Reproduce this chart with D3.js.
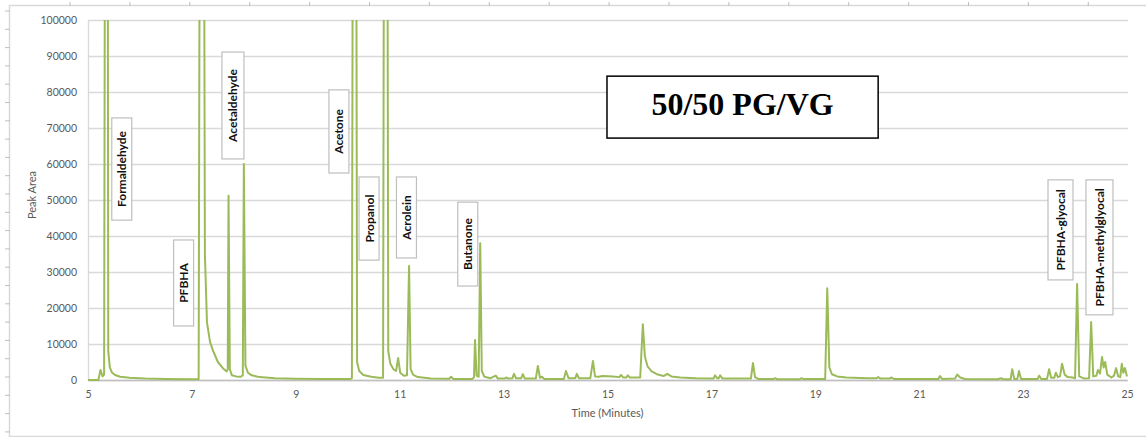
<!DOCTYPE html>
<html>
<head>
<meta charset="utf-8">
<script src="https://cdn.jsdelivr.net/npm/d3@7"></script>
<style>
  body { margin: 0; background: #fff; }
  svg { display: block; }
</style>
</head>
<body>
<svg id="chart"></svg>
<script>
// chromatogram trace: [time (min), peak area]
// peaks that run off the top of the chart are given a large value and clipped
const trace = [
  [5.00, 0], [5.20, 0], [5.24, 2800], [5.28, 1000], [5.31, 1500], [5.36, 400000], [5.39, 8000],
  [5.42, 3500], [5.46, 2100], [5.52, 1400], [5.62, 900], [5.80, 600], [6.10, 400], [6.50, 300],
  [7.00, 200], [7.13, 200], [7.19, 400000], [7.25, 35000], [7.29, 16000], [7.35, 10500],
  [7.41, 8000], [7.50, 5000], [7.60, 3200], [7.67, 2400], [7.69, 3000], [7.705, 51200],
  [7.73, 3000], [7.77, 1300], [7.85, 1000], [7.94, 900], [7.98, 1300], [8.00, 60000],
  [8.03, 4000], [8.08, 2000], [8.15, 1300], [8.30, 800], [8.60, 500], [9.00, 350], [9.50, 250],
  [10.05, 250], [10.08, 500], [10.13, 400000], [10.18, 5000], [10.22, 2500], [10.30, 1400],
  [10.45, 900], [10.60, 600], [10.68, 600], [10.73, 400000], [10.78, 8000], [10.82, 4500],
  [10.88, 3000], [10.93, 2500], [10.97, 6100], [11.01, 2000], [11.08, 1200], [11.14, 1300],
  [11.18, 31700], [11.21, 3000], [11.26, 1400], [11.35, 800], [11.60, 450], [11.95, 350],
  [11.99, 900], [12.03, 300], [12.40, 300], [12.43, 800], [12.45, 11100], [12.48, 1200],
  [12.52, 900], [12.55, 38000], [12.58, 2500], [12.63, 900], [12.75, 500], [12.85, 1200],
  [12.89, 400], [13.02, 400], [13.05, 700], [13.09, 400], [13.17, 500], [13.20, 1700],
  [13.24, 500], [13.34, 500], [13.37, 1600], [13.41, 400], [13.62, 400], [13.66, 3900],
  [13.70, 600], [13.74, 900], [13.78, 300], [14.16, 300], [14.20, 2500], [14.25, 500],
  [14.38, 500], [14.41, 1700], [14.45, 500], [14.67, 500], [14.72, 5300], [14.76, 1000],
  [14.83, 900], [14.90, 1100], [15.10, 1000], [15.23, 800], [15.26, 1400], [15.30, 700],
  [15.36, 700], [15.39, 1300], [15.43, 700], [15.63, 700], [15.68, 15500], [15.72, 6500],
  [15.77, 3800], [15.85, 2400], [15.95, 1600], [16.08, 1100], [16.15, 1700], [16.23, 1000],
  [16.40, 700], [16.70, 500], [17.04, 400], [17.07, 1300], [17.11, 500], [17.14, 500],
  [17.17, 1300], [17.21, 400], [17.76, 400], [17.80, 4700], [17.84, 800], [17.90, 300],
  [18.20, 300], [18.23, 500], [18.27, 200], [18.70, 200], [18.73, 500], [18.77, 300],
  [19.19, 300], [19.23, 25500], [19.27, 3500], [19.32, 1600], [19.42, 1000], [19.60, 700],
  [20.00, 500], [20.18, 500], [20.21, 800], [20.26, 400], [20.43, 400], [20.46, 700],
  [20.51, 300], [21.00, 300], [21.37, 300], [21.40, 1100], [21.44, 300], [21.69, 400],
  [21.73, 1500], [21.79, 700], [21.88, 300], [22.50, 200], [22.58, 500], [22.62, 200],
  [22.76, 200], [22.79, 3000], [22.83, 300], [22.89, 300], [22.92, 2500], [22.96, 300],
  [23.28, 300], [23.31, 1200], [23.35, 300], [23.46, 300], [23.50, 3000], [23.54, 600],
  [23.60, 600], [23.63, 2000], [23.67, 800], [23.71, 1000], [23.75, 4500], [23.80, 1500],
  [23.86, 800], [23.95, 700], [24.00, 500], [24.04, 26700], [24.08, 1000], [24.18, 400],
  [24.27, 500], [24.31, 16100], [24.35, 1000], [24.41, 1200], [24.44, 2800], [24.48, 1800],
  [24.52, 6400], [24.55, 3500], [24.58, 5000], [24.62, 1500], [24.70, 700], [24.75, 1200],
  [24.79, 3300], [24.83, 1000], [24.87, 800], [24.90, 4500], [24.93, 2000], [24.96, 3300],
  [25.00, 1000]
];

const xTicks = [5, 7, 9, 11, 13, 15, 17, 19, 21, 23, 25];
const yTicks = [0, 10000, 20000, 30000, 40000, 50000, 60000, 70000, 80000, 90000, 100000];

const peakNames = ["Formaldehyde", "PFBHA", "Acetaldehyde", "Acetone", "Propanol",
                   "Acrolein", "Butanone", "PFBHA-glyocal", "PFBHA-methylglyocal"];

const chartTitle = "50/50 PG/VG";
const xTitle = "Time (Minutes)";
const yTitle = "Peak Area";

// where each callout box sits, in data units: [centre time, top area, bottom area, width px]
const calloutBoxes = [
  [5.65, 72800, 44400, 20],
  [6.84, 38900, 15000, 20],
  [7.79, 91100, 61400, 22],
  [9.83, 80600, 57500, 20],
  [10.41, 56400, 33300, 20],
  [11.13, 56400, 33900, 20],
  [12.31, 49400, 26100, 20],
  [23.72, 55600, 27800, 25],
  [24.47, 55600, 18100, 27]
];

const W = 1146, H = 437;
const plot = { left: 88, right: 1127, top: 20, bottom: 380 };
const font = "Lato, 'Open Sans', sans-serif";

const svg = d3.select("#chart").attr("width", W).attr("height", H);

// page frame with its little ruler ticks
const frame = svg.append("g").attr("stroke", "#d9d9d9").attr("fill", "none");
frame.append("path").attr("d", `M9.5,437 V5.5 H1146`).attr("stroke-width", 1.5);
frame.append("path").attr("d", `M9.5,436.5 H1146`).attr("stroke-width", 1.5);
frame.selectAll(".rt").data(d3.range(70, W, 59.9)).enter().append("line")
  .attr("x1", d => d).attr("x2", d => d).attr("y1", 2).attr("y2", 6)
  .attr("stroke", "#bfbfbf");
frame.selectAll(".lt").data(d3.range(11, H, 18.3)).enter().append("line")
  .attr("x1", 5).attr("x2", 10).attr("y1", d => d).attr("y2", d => d)
  .attr("stroke", "#bfbfbf");

let x = d3.scaleLinear().domain([5, 25]).range([plot.left, plot.right]);
let y = d3.scaleLinear().domain([0, 100000]).range([plot.bottom, plot.top]);

// horizontal gridlines + y labels
let yAxis = svg.append("g")
  .attr("transform", `translate(${plot.left},0)`)
  .call(d3.axisLeft(y).tickValues(yTicks).tickFormat(d3.format("d"))
    .tickSize(-(plot.right - plot.left + 1)).tickPadding(11));
yAxis.select(".domain").remove();
yAxis.selectAll(".tick line").attr("stroke", "#d9d9d9").attr("stroke-width", 1.3);
yAxis.selectAll(".tick text").attr("fill", "#595959").style("font", `10.5px ${font}`);

// left edge of plot area
svg.append("line")
  .attr("x1", plot.left + 0.5).attr("x2", plot.left + 0.5)
  .attr("y1", plot.top).attr("y2", plot.bottom)
  .attr("stroke", "#d9d9d9").attr("stroke-width", 1.3);

// x axis
let xAxis = svg.append("g")
  .attr("transform", `translate(0,${plot.bottom})`)
  .call(d3.axisBottom(x).tickValues(xTicks).tickSize(0).tickPadding(11));
xAxis.select(".domain").attr("stroke", "#bfbfbf").attr("stroke-width", 1.3);
xAxis.selectAll(".tick text").attr("fill", "#595959").style("font", `10.5px ${font}`);

svg.append("text")
  .attr("x", (plot.left + plot.right) / 2).attr("y", 417)
  .attr("text-anchor", "middle").attr("fill", "#595959")
  .style("font", `11px ${font}`).text(xTitle);

svg.append("text")
  .attr("transform", `translate(36,195) rotate(-90)`)
  .attr("text-anchor", "middle").attr("fill", "#595959")
  .style("font", `11px ${font}`).text(yTitle);

// the chromatogram
svg.append("clipPath").attr("id", "plotclip").append("rect")
  .attr("x", plot.left).attr("y", plot.top)
  .attr("width", plot.right - plot.left + 2).attr("height", plot.bottom - plot.top + 2);

let line = d3.line().x(d => x(d[0])).y(d => y(d[1]));
svg.append("path")
  .datum(trace)
  .attr("clip-path", "url(#plotclip)")
  .attr("d", line)
  .attr("fill", "none")
  .attr("stroke", "#9bbb59")
  .attr("stroke-width", 2)
  .attr("stroke-linejoin", "round");

// callout boxes
let callouts = svg.append("g").selectAll("g")
  .data(peakNames.map((name, i) => ({ name, box: calloutBoxes[i] })))
  .enter().append("g");

callouts.append("rect")
  .attr("x", d => x(d.box[0]) - d.box[3] / 2)
  .attr("y", d => y(d.box[1]))
  .attr("width", d => d.box[3])
  .attr("height", d => y(d.box[2]) - y(d.box[1]))
  .attr("fill", "#fff")
  .attr("stroke", "#bfbfbf")
  .attr("stroke-width", 1.2);

callouts.append("text")
  .attr("transform", d => `translate(${x(d.box[0]) + 4.5},${(y(d.box[1]) + y(d.box[2])) / 2}) rotate(-90)`)
  .attr("text-anchor", "middle")
  .attr("fill", "#111")
  .style("font", `bold 12px ${font}`)
  .text(d => d.name);

// title box
let tx0 = x(14.99), tx1 = x(20.21), ty0 = y(84400), ty1 = y(67200);
svg.append("rect")
  .attr("x", tx0).attr("y", ty0).attr("width", tx1 - tx0).attr("height", ty1 - ty0)
  .attr("fill", "#fff").attr("stroke", "#000").attr("stroke-width", 1.5);
svg.append("text")
  .attr("x", (tx0 + tx1) / 2).attr("y", 115)
  .attr("text-anchor", "middle")
  .style("font", "bold 32px 'Liberation Serif', 'Times New Roman', serif")
  .text(chartTitle);
</script>
</body>
</html>
